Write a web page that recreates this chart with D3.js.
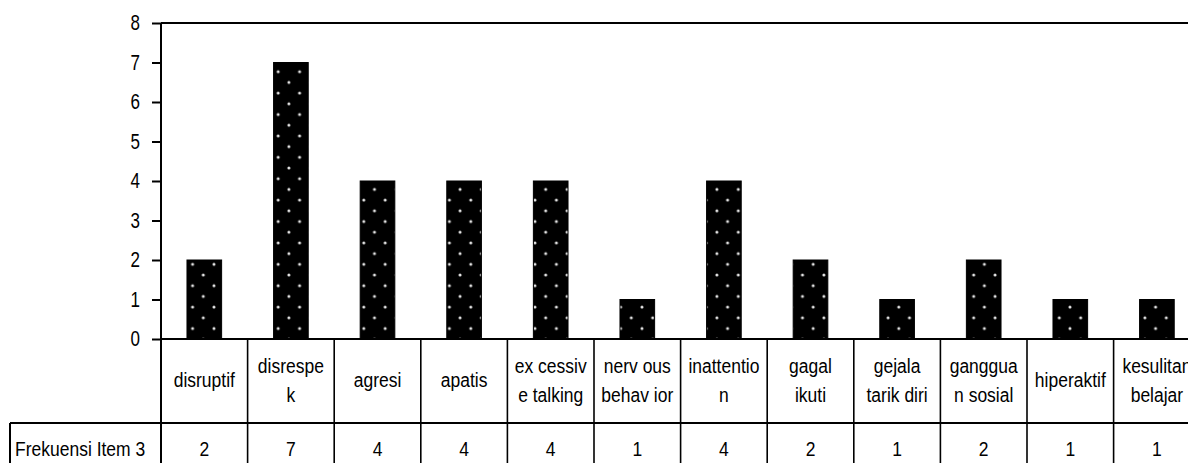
<!DOCTYPE html>
<html>
<head>
<meta charset="utf-8">
<script src="https://cdn.jsdelivr.net/npm/d3@7"></script>
<style>
  body { margin: 0; background: #fff; }
  svg { display: block; font-family: "Liberation Sans", Arial, sans-serif; }
</style>
</head>
<body>
<script>
// Width and height
var w = 1188;
var h = 463;

// Data
var categories = ["disruptif", "disrespek", "agresi", "apatis", "excessive talking",
                  "nervous behavior", "inattention", "gagal ikuti", "gejala tarik diri",
                  "gangguan sosial", "hiperaktif", "kesulitan belajar"];
// labels as wrapped in the table cells
var labelLines = [["disruptif"], ["disrespe", "k"], ["agresi"], ["apatis"], ["ex cessiv", "e talking"],
                  ["nerv ous", "behav ior"], ["inattentio", "n"], ["gagal", "ikuti"], ["gejala", "tarik diri"],
                  ["ganggua", "n sosial"], ["hiperaktif"], ["kesulitan", "belajar"]];
var values = [2, 7, 4, 4, 4, 1, 4, 2, 1, 2, 1, 1];
var seriesName = "Frekuensi Item 3";
var yTicks = [0, 1, 2, 3, 4, 5, 6, 7, 8];

// Layout
var left = 161, plotTop = 23, plotBottom = 339;
var colW = 86.6;
var right = left + colW * categories.length;
var row1 = 423, tableLeft = 10;
var stretch = "scale(1,1.2)"; // text in the reference is a bit tall

// Scales
var xScale = d3.scaleBand()
  .domain(categories)
  .range([left, right])
  .paddingInner(0.6)
  .paddingOuter(0.3);

var colScale = d3.scaleBand()
  .domain(categories)
  .range([left, right]);

var yScale = d3.scaleLinear()
  .domain([0, 8])
  .range([plotBottom, plotTop]);

var svg = d3.select("body")
  .append("svg")
  .attr("width", w)
  .attr("height", h);

// Dotted fill pattern
var pat = svg.append("defs").append("pattern")
  .attr("id", "dots")
  .attr("patternUnits", "userSpaceOnUse")
  .attr("x", 0).attr("y", 7.5)
  .attr("width", 21.4).attr("height", 21.4);
pat.append("rect").attr("width", 21.4).attr("height", 21.4).attr("fill", "#000");
[[0, 0], [21.4, 0], [0, 21.4], [21.4, 21.4], [10.7, 10.7]].forEach(function(p) {
  pat.append("circle").attr("cx", p[0]).attr("cy", p[1]).attr("r", 1.5).attr("fill", "#e6e6e6");
});

// Bars
svg.selectAll("rect.bar")
  .data(values)
  .enter()
  .append("rect")
  .attr("class", "bar")
  .attr("x", function(d, i) { return xScale(categories[i]); })
  .attr("y", function(d) { return yScale(d); })
  .attr("width", xScale.bandwidth())
  .attr("height", function(d) { return yScale(0) - yScale(d); })
  .attr("fill", "url(#dots)")
  .attr("stroke", "#000")
  .attr("stroke-width", 1);

// Y axis
var yAxis = d3.axisLeft(yScale)
  .tickValues(yTicks)
  .tickSize(9)
  .tickPadding(12)
  .tickFormat(d3.format("d"));

var gy = svg.append("g")
  .attr("transform", "translate(" + left + ",0)")
  .call(yAxis);
gy.select(".domain").remove();
gy.selectAll("line").attr("stroke", "#000").attr("stroke-width", 2);
gy.selectAll("text")
  .attr("font-size", "17px")
  .attr("fill", "#000")
  .attr("font-family", "Liberation Sans, Arial, sans-serif")
  .attr("transform", "scale(1,1.25)");

// Frame lines
var lines = svg.append("g").attr("stroke", "#000").attr("stroke-width", 2);
lines.append("line").attr("x1", left).attr("x2", w).attr("y1", plotTop).attr("y2", plotTop);
lines.append("line").attr("x1", left).attr("x2", left).attr("y1", plotTop).attr("y2", h);
lines.append("line").attr("x1", left).attr("x2", w).attr("y1", plotBottom).attr("y2", plotBottom);
lines.append("line").attr("x1", tableLeft).attr("x2", w).attr("y1", row1).attr("y2", row1);
lines.append("line").attr("x1", tableLeft).attr("x2", tableLeft).attr("y1", row1).attr("y2", h);

// Table column dividers
lines.selectAll("line.col")
  .data(categories)
  .enter()
  .append("line")
  .attr("class", "col")
  .attr("x1", function(d) { return colScale(d) + colScale.bandwidth(); })
  .attr("x2", function(d) { return colScale(d) + colScale.bandwidth(); })
  .attr("y1", plotBottom)
  .attr("y2", h)
  .attr("stroke-width", 1.6);

// Category labels
function colMid(i) { return colScale(categories[i]) + colScale.bandwidth() / 2; }

labelLines.forEach(function(linesOfLabel, i) {
  var ys = linesOfLabel.length === 1 ? [380] : [366, 395];
  linesOfLabel.forEach(function(t, j) {
    svg.append("text")
      .attr("class", "cat")
      .attr("text-anchor", "middle")
      .attr("dominant-baseline", "central")
      .attr("font-size", "17.5px")
      .attr("fill", "#000")
      .attr("transform", "translate(" + colMid(i) + "," + ys[j] + ") " + stretch)
      .text(t);
  });
});

// Value row
svg.selectAll("text.val")
  .data(values)
  .enter()
  .append("text")
  .attr("class", "val")
  .attr("text-anchor", "middle")
  .attr("dominant-baseline", "central")
  .attr("font-size", "17.5px")
  .attr("fill", "#000")
  .attr("transform", function(d, i) { return "translate(" + colMid(i) + ",449) " + stretch; })
  .text(function(d) { return d; });

svg.append("text")
  .attr("dominant-baseline", "central")
  .attr("font-size", "17.5px")
  .attr("fill", "#000")
  .attr("transform", "translate(15,449) " + stretch)
  .text(seriesName);
</script>
</body>
</html>
